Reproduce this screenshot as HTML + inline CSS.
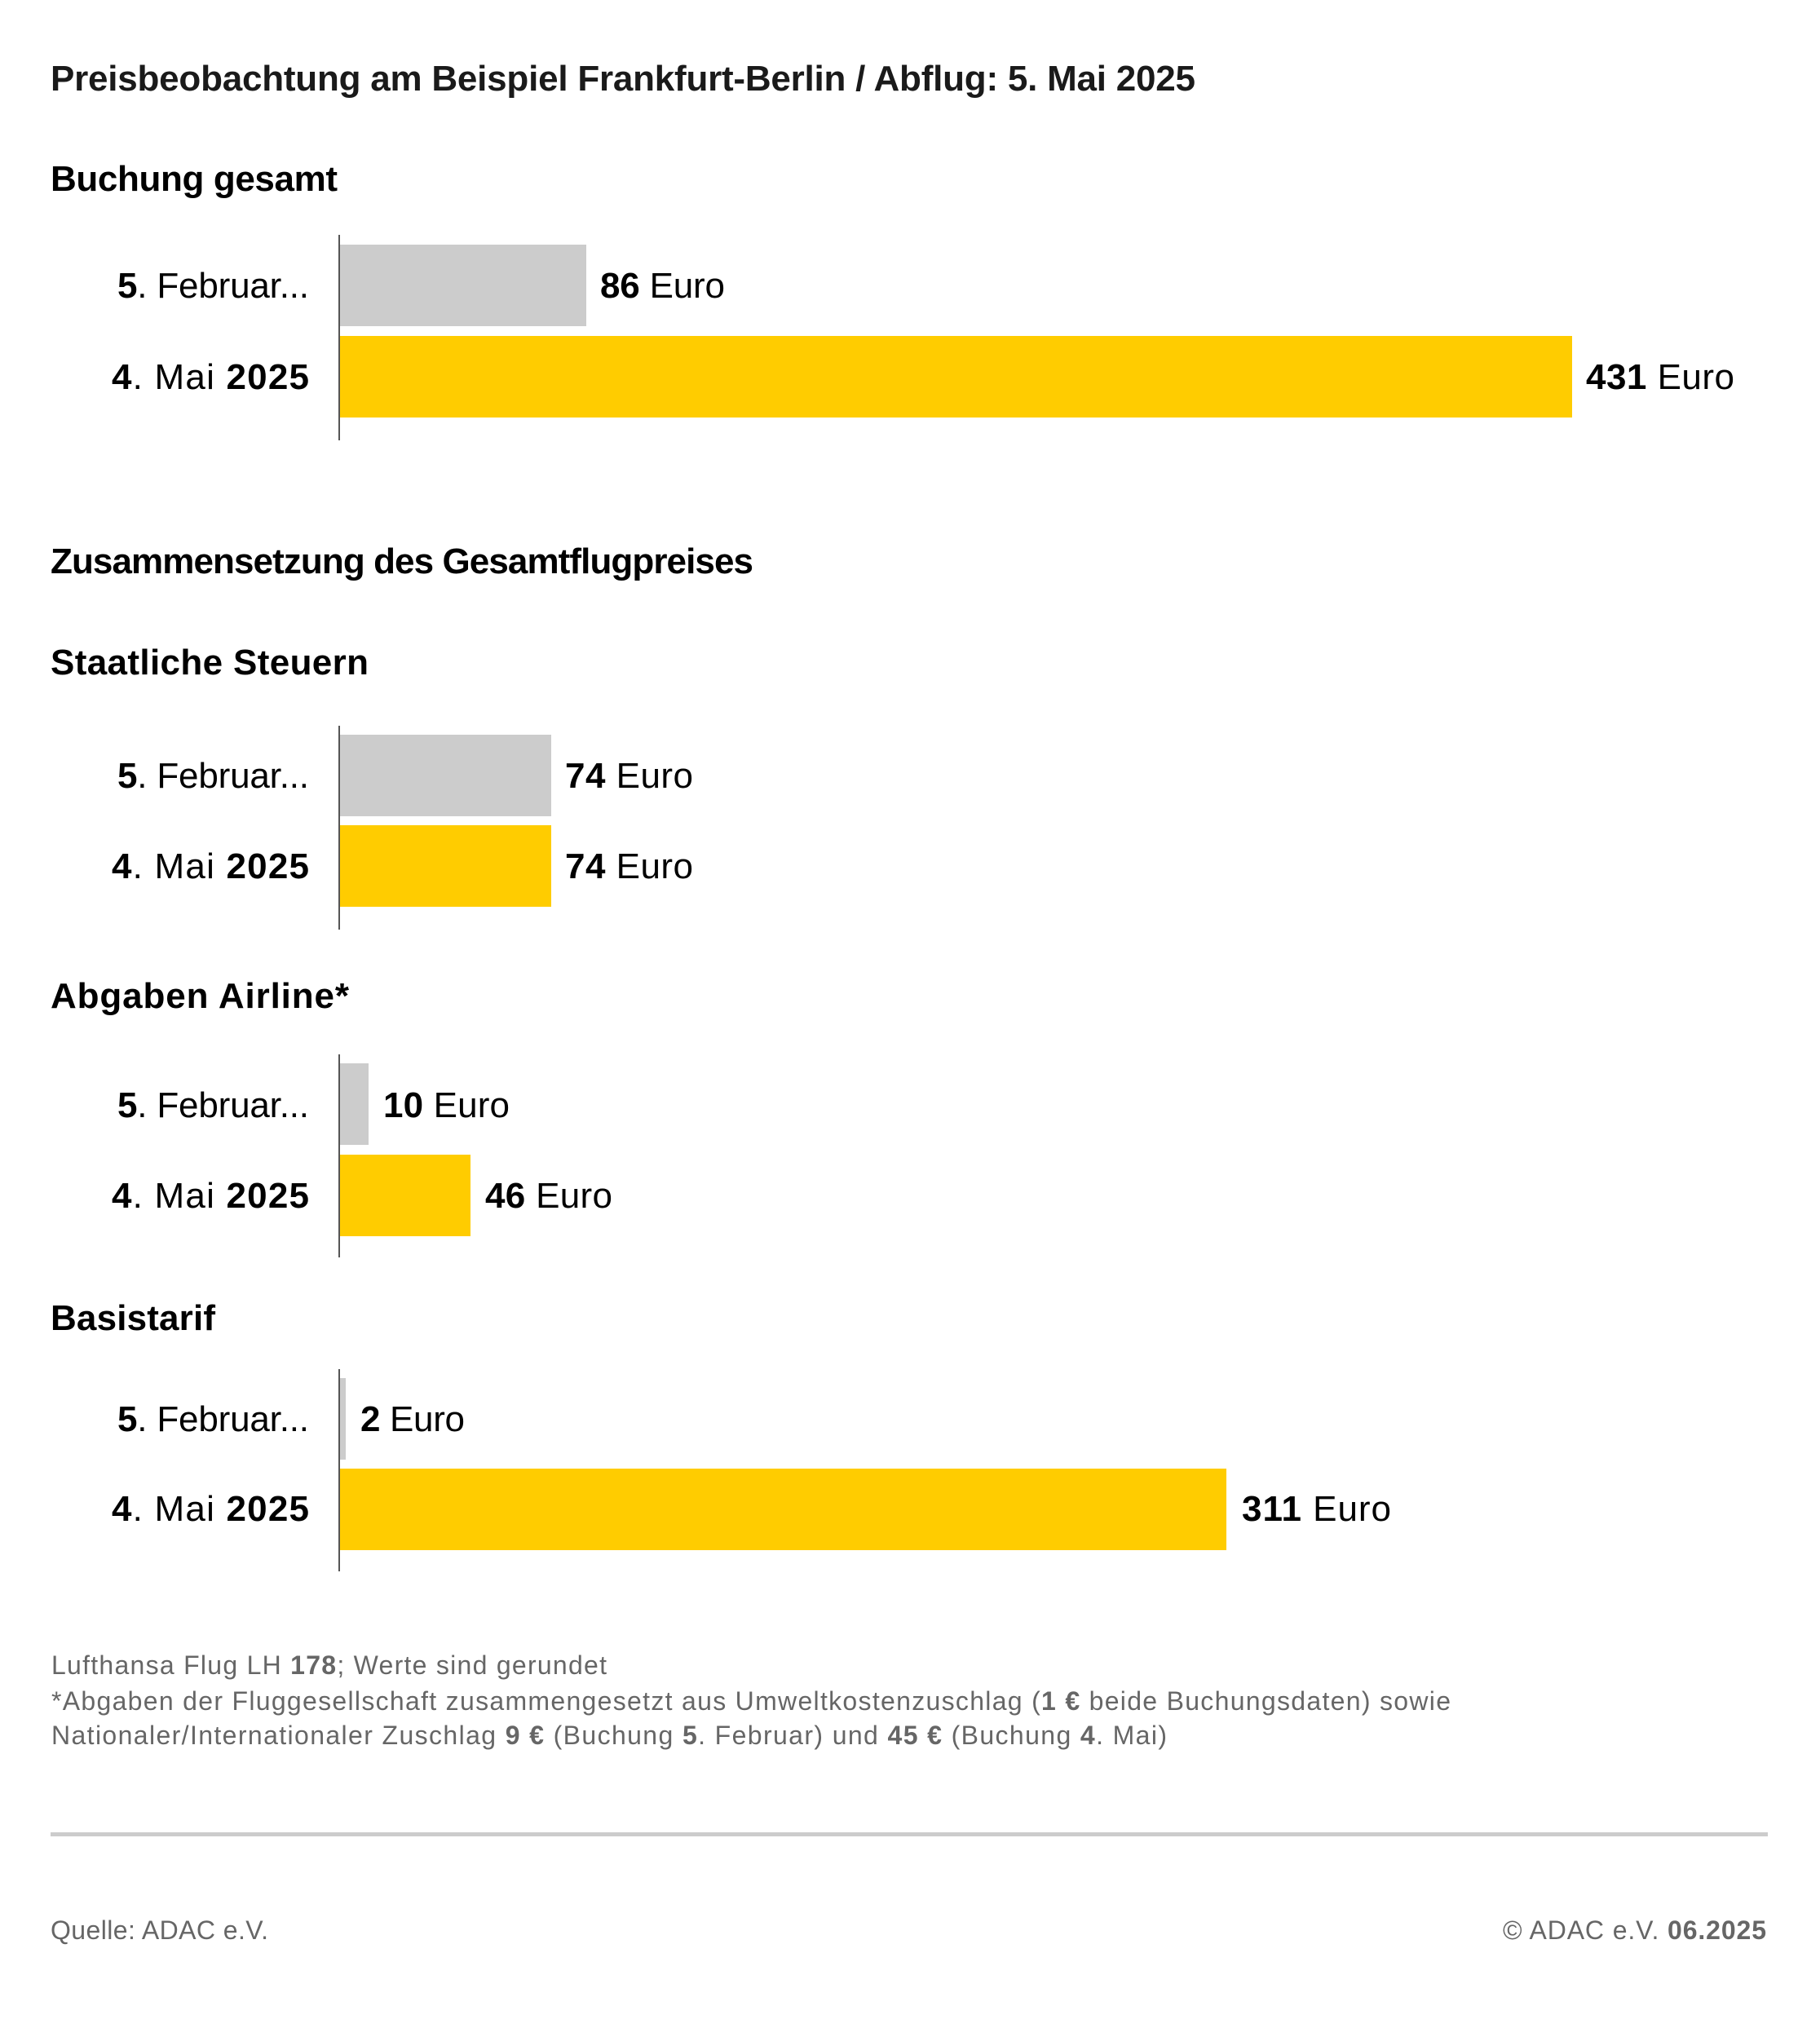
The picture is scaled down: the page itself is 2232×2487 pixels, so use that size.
<!DOCTYPE html>
<html>
<head>
<meta charset="utf-8">
<style>
  html, body { margin: 0; padding: 0; background: #ffffff; }
  svg { display: block; }
  text { font-family: "Liberation Sans", "DejaVu Sans", sans-serif; }
  .t { font-weight: bold; fill: #1a1a1a; font-size: 44px; }
  .h { font-weight: bold; fill: #000; font-size: 44px; }
  .l { fill: #000; font-size: 44px; }
  .b { font-weight: bold; }
  .f { fill: #666; font-size: 32px; }
  .q { fill: #666; font-size: 32px; }
</style>
</head>
<body>
<svg width="2232" height="2487" viewBox="0 0 2232 2487" xmlns="http://www.w3.org/2000/svg">
  <rect x="0" y="0" width="2232" height="2487" fill="#ffffff"/>

  <!-- Title -->
  <text class="t" x="62" y="111" textLength="1404" lengthAdjust="spacing">Preisbeobachtung am Beispiel Frankfurt-Berlin / Abflug: 5. Mai 2025</text>

  <!-- Section 1: Buchung gesamt -->
  <text class="h" x="62" y="234" textLength="352" lengthAdjust="spacing">Buchung gesamt</text>
  <rect x="417" y="300" width="302" height="100" fill="#cccccc"/>
  <rect x="417" y="412" width="1511" height="100" fill="#ffcc00"/>
  <rect x="415" y="288" width="2" height="252" fill="#555555"/>
  <text class="l" x="144" y="365" textLength="235" lengthAdjust="spacing"><tspan class="b">5</tspan>. Februar...</text>
  <text class="l" x="137" y="477" textLength="242" lengthAdjust="spacing"><tspan class="b">4</tspan>. Mai <tspan class="b">2025</tspan></text>
  <text class="l" x="736" y="365" textLength="153" lengthAdjust="spacing"><tspan class="b">86</tspan> Euro</text>
  <text class="l" x="1945" y="477" textLength="182" lengthAdjust="spacing"><tspan class="b">431</tspan> Euro</text>

  <!-- Zusammensetzung -->
  <text class="h" x="62" y="703" textLength="862" lengthAdjust="spacing">Zusammensetzung des Gesamtflugpreises</text>

  <!-- Section 2: Staatliche Steuern -->
  <text class="h" x="62" y="827" textLength="390" lengthAdjust="spacing">Staatliche Steuern</text>
  <rect x="417" y="901" width="259" height="100" fill="#cccccc"/>
  <rect x="417" y="1012" width="259" height="100" fill="#ffcc00"/>
  <rect x="415" y="890" width="2" height="250" fill="#555555"/>
  <text class="l" x="144" y="966" textLength="235" lengthAdjust="spacing"><tspan class="b">5</tspan>. Februar...</text>
  <text class="l" x="137" y="1077" textLength="242" lengthAdjust="spacing"><tspan class="b">4</tspan>. Mai <tspan class="b">2025</tspan></text>
  <text class="l" x="693" y="966" textLength="157" lengthAdjust="spacing"><tspan class="b">74</tspan> Euro</text>
  <text class="l" x="693" y="1077" textLength="157" lengthAdjust="spacing"><tspan class="b">74</tspan> Euro</text>

  <!-- Section 3: Abgaben Airline* -->
  <text class="h" x="62" y="1236" textLength="366" lengthAdjust="spacing">Abgaben Airline*</text>
  <rect x="417" y="1304" width="35" height="100" fill="#cccccc"/>
  <rect x="417" y="1416" width="160" height="100" fill="#ffcc00"/>
  <rect x="415" y="1293" width="2" height="249" fill="#555555"/>
  <text class="l" x="144" y="1370" textLength="235" lengthAdjust="spacing"><tspan class="b">5</tspan>. Februar...</text>
  <text class="l" x="137" y="1481" textLength="242" lengthAdjust="spacing"><tspan class="b">4</tspan>. Mai <tspan class="b">2025</tspan></text>
  <text class="l" x="470" y="1370" textLength="155" lengthAdjust="spacing"><tspan class="b">10</tspan> Euro</text>
  <text class="l" x="595" y="1481" textLength="156" lengthAdjust="spacing"><tspan class="b">46</tspan> Euro</text>

  <!-- Section 4: Basistarif -->
  <text class="h" x="62" y="1631" textLength="202" lengthAdjust="spacing">Basistarif</text>
  <rect x="417" y="1690" width="7" height="100" fill="#cccccc"/>
  <rect x="417" y="1801" width="1087" height="100" fill="#ffcc00"/>
  <rect x="415" y="1679" width="2" height="248" fill="#555555"/>
  <text class="l" x="144" y="1755" textLength="235" lengthAdjust="spacing"><tspan class="b">5</tspan>. Februar...</text>
  <text class="l" x="137" y="1865" textLength="242" lengthAdjust="spacing"><tspan class="b">4</tspan>. Mai <tspan class="b">2025</tspan></text>
  <text class="l" x="442" y="1755" textLength="128" lengthAdjust="spacing"><tspan class="b">2</tspan> Euro</text>
  <text class="l" x="1523" y="1865" textLength="183" lengthAdjust="spacing"><tspan class="b">311</tspan> Euro</text>

  <!-- Footnotes -->
  <text class="f" x="63" y="2053" textLength="681" lengthAdjust="spacing">Lufthansa Flug LH <tspan class="b">178</tspan>; Werte sind gerundet</text>
  <text class="f" x="63" y="2097" textLength="1716" lengthAdjust="spacing">*Abgaben der Fluggesellschaft zusammengesetzt aus Umweltkostenzuschlag (<tspan class="b">1 €</tspan> beide Buchungsdaten) sowie</text>
  <text class="f" x="63" y="2139" textLength="1368" lengthAdjust="spacing">Nationaler/Internationaler Zuschlag <tspan class="b">9 €</tspan> (Buchung <tspan class="b">5</tspan>. Februar) und <tspan class="b">45 €</tspan> (Buchung <tspan class="b">4</tspan>. Mai)</text>

  <!-- Rule -->
  <rect x="62" y="2247" width="2106" height="5" fill="#cccccc"/>

  <!-- Footer -->
  <text class="q" x="62" y="2378" textLength="267" lengthAdjust="spacing">Quelle: ADAC e.V.</text>
  <text class="q" x="1843" y="2378" textLength="323" lengthAdjust="spacing">© ADAC e.V. <tspan class="b">06.2025</tspan></text>
</svg>
</body>
</html>
